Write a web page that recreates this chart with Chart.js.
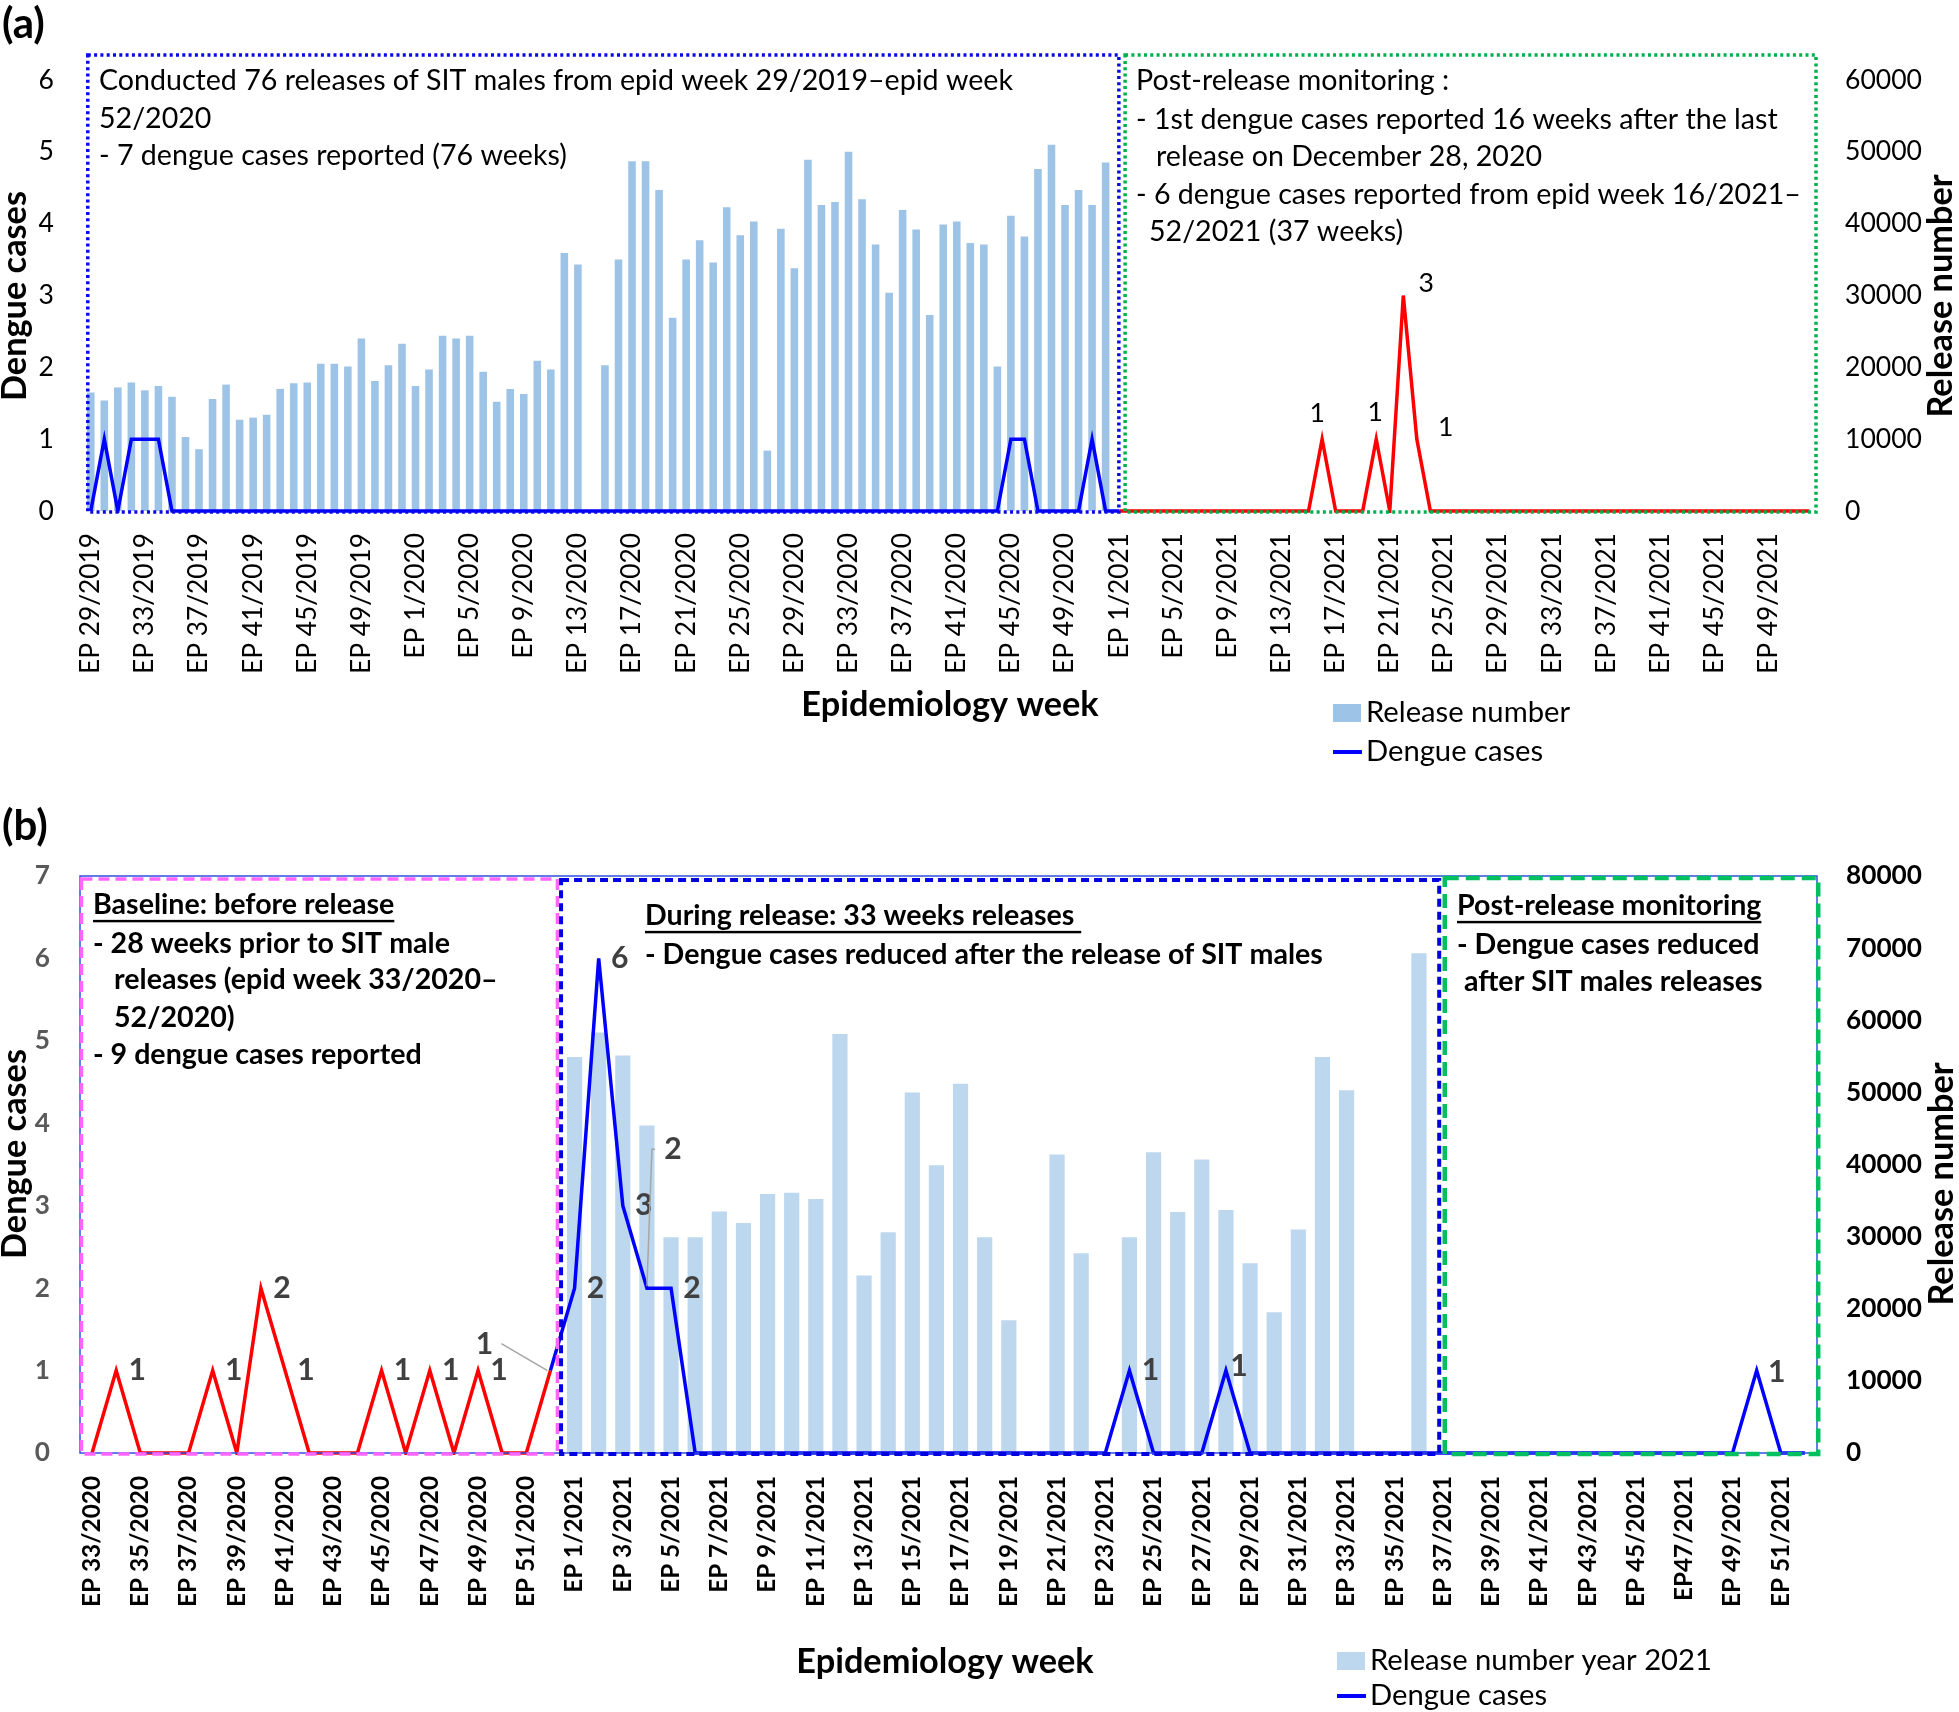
<!DOCTYPE html>
<html lang="en">
<head>
<meta charset="UTF-8">
<title>SIT male releases and dengue cases</title>
<script src="https://cdn.jsdelivr.net/npm/chart.js"></script>
<style>
  html, body { margin: 0; padding: 0; background: #fff; }
  #wrap { position: relative; width: 1959px; height: 1712px; }
  canvas { position: absolute; left: 0; }
  #chartA { top: 0; }
  #chartB { top: 800px; }
</style>
</head>
<body>
<div id="wrap">
  <canvas id="chartA" width="1959" height="800"></canvas>
  <canvas id="chartB" width="1959" height="912"></canvas>
</div>
<script>
// ---------- panel (a): epid week 29/2019 - 52/2021 ----------
const releaseA2019 = [16500, 15400, 17200, 17900, 16800, 17400, 15900, 10300, 8600, 15600, 17600, 12700,
  13000, 13400, 17000, 17800, 17900, 20500, 20500, 20100, 24000, 18100, 20300, 23300];
const releaseA2020 = [17400, 19700, 24400, 24000, 24400, 19400, 15200, 17000, 16300, 20900, 19700, 35900,
  34300, null, 20300, 35000, 48700, 48700, 44700, 26900, 35000, 37700, 34600, 42300, 38400, 40300,
  8400, 39300, 33800, 48900, 42600, 43000, 50000, 43400, 37100, 30400, 41900, 39200, 27300, 39900,
  40300, 37300, 37100, 20100, 41100, 38200, 47600, 51000, 42600, 44700, 42600, 48500];
const casesA2019 = [0, 1, 0, 1, 1, 1, 0, 0, 0, 0, 0, 0, 0, 0, 0, 0, 0, 0, 0, 0, 0, 0, 0, 0];
const casesA2020 = [0, 0, 0, 0, 0, 0, 0, 0, 0, 0, 0, 0, 0, 0, 0, 0, 0, 0, 0, 0, 0, 0, 0, 0, 0, 0,
  0, 0, 0, 0, 0, 0, 0, 0, 0, 0, 0, 0, 0, 0, 0, 0, 0, 0, 1, 1, 0, 0, 0, 0, 1, 0];
const casesA2021 = [0, 0, 0, 0, 0, 0, 0, 0, 0, 0, 0, 0, 0, 0, 0, 1, 0, 0, 0, 1, 0, 3, 1, 0, 0, 0,
  0, 0, 0, 0, 0, 0, 0, 0, 0, 0, 0, 0, 0, 0, 0, 0, 0, 0, 0, 0, 0, 0, 0, 0, 0, 0];
const tickLabelsA = ["EP 29/2019", "EP 33/2019", "EP 37/2019", "EP 41/2019", "EP 45/2019", "EP 49/2019",
  "EP 1/2020", "EP 5/2020", "EP 9/2020", "EP 13/2020", "EP 17/2020", "EP 21/2020", "EP 25/2020",
  "EP 29/2020", "EP 33/2020", "EP 37/2020", "EP 41/2020", "EP 45/2020", "EP 49/2020",
  "EP 1/2021", "EP 5/2021", "EP 9/2021", "EP 13/2021", "EP 17/2021", "EP 21/2021", "EP 25/2021",
  "EP 29/2021", "EP 33/2021", "EP 37/2021", "EP 41/2021", "EP 45/2021", "EP 49/2021"];

// ---------- panel (b): epid week 33/2020 - 52/2021 ----------
const releaseB2021 = [54900, 58300, 55100, 45400, 29900, 29900, 33500, 31900, 35900, 36100, 35200, 58100,
  24600, 30600, 50000, 39900, 51200, 29900, 18400, null, 41400, 27700, null, 29900, 41700, 33400,
  40700, 33700, 26300, 19500, 31000, 54900, 50300, null, null, 69300];
const casesB2020 = [0, 1, 0, 0, 0, 1, 0, 2, 1, 0, 0, 0, 1, 0, 1, 0, 1, 0, 0, 1];
const casesB2021 = [2, 6, 3, 2, 2, 0, 0, 0, 0, 0, 0, 0, 0, 0, 0, 0, 0, 0, 0, 0, 0, 0, 0, 1, 0, 0,
  0, 1, 0, 0, 0, 0, 0, 0, 0, 0, 0, 0, 0, 0, 0, 0, 0, 0, 0, 0, 0, 0, 0, 1, 0, 0];
const tickLabelsB = ["EP 33/2020", "EP 35/2020", "EP 37/2020", "EP 39/2020", "EP 41/2020", "EP 43/2020",
  "EP 45/2020", "EP 47/2020", "EP 49/2020", "EP 51/2020", "EP 1/2021", "EP 3/2021", "EP 5/2021",
  "EP 7/2021", "EP 9/2021", "EP 11/2021", "EP 13/2021", "EP 15/2021", "EP 17/2021", "EP 19/2021",
  "EP 21/2021", "EP 23/2021", "EP 25/2021", "EP 27/2021", "EP 29/2021", "EP 31/2021", "EP 33/2021",
  "EP 35/2021", "EP 37/2021", "EP 39/2021", "EP 41/2021", "EP 43/2021", "EP 45/2021", "EP47/2021",
  "EP 49/2021", "EP 51/2021"];

function weeks(year, from, to) {
  const out = [];
  for (let w = from; w <= to; w++) out.push("EP " + w + "/" + year);
  return out;
}
const categoriesA = weeks(2019, 29, 52).concat(weeks(2020, 1, 52), weeks(2021, 1, 52));
const categoriesB = weeks(2020, 33, 52).concat(weeks(2021, 1, 52));
const releaseA = releaseA2019.concat(releaseA2020);
const casesA = casesA2019.concat(casesA2020, casesA2021);
const releaseB = new Array(casesB2020.length).fill(null).concat(releaseB2021);
const casesB = casesB2020.concat(casesB2021);
const redFromA = releaseA.length;            // 2021 (post-release) drawn red
const blueFromB = casesB2020.length - 1;     // baseline 2020 drawn red

// font sizes matched to the widths of the original lettering
const FONT = "Lato";
const meas = document.createElement("canvas").getContext("2d");
function fitSize(text, width, weight) {
  meas.font = weight + " 100px " + FONT;
  return 100 * width / meas.measureText(text).width;
}
const sizeTextA = fitSize("Conducted 76 releases of SIT males from epid week 29/2019–epid week", 915, "normal");
const sizeTextB = fitSize("- Dengue cases reduced after the release of SIT males", 678, "bold");
const sizeTickXA = fitSize("EP 29/2019", 141, "normal");
const sizeTickYA = fitSize("60000", 77, "normal");
const sizeTickXB = fitSize("EP 23/2021", 131, "bold");
const sizeTickYB = fitSize("80000", 76, "bold");
const sizeTitle = fitSize("Epidemiology week", 297, "bold");
const sizeLegend = fitSize("Release number", 204, "normal");

function font(weight, size) { return weight + " " + size.toFixed(1) + "px " + FONT; }

function overlay(cfg) {
  return {
    id: "overlay",
    afterDatasetsDraw(chart) {
      const ctx = chart.ctx, area = chart.chartArea, x = chart.scales.x;
      ctx.save();
      if (cfg.frame) {
        ctx.strokeStyle = cfg.frame; ctx.lineWidth = 1.5;
        ctx.strokeRect(area.left, area.top, area.right - area.left, area.bottom - area.top);
      }
      // region boxes
      cfg.boxes.forEach(b => {
        const l = x.getPixelForValue(b.from), r = x.getPixelForValue(b.to);
        const t = area.top + b.top, bt = area.bottom + 1;
        ctx.strokeStyle = b.color; ctx.lineWidth = b.width; ctx.setLineDash(b.dash);
        ctx.strokeRect(l, t, r - l, bt - t);
      });
      ctx.setLineDash([]);
      // box texts
      ctx.textAlign = "left"; ctx.textBaseline = "middle"; ctx.fillStyle = "#000";
      ctx.font = cfg.textFont;
      cfg.texts.forEach(t => {
        ctx.fillText(t.text, t.x, t.y);
        if (t.u) {
          const w = ctx.measureText(t.text).width;
          ctx.fillRect(t.x, t.y + cfg.textSize * 0.52, w, Math.max(2, cfg.textSize * 0.085));
        }
      });
      // data labels
      const meta = chart.getDatasetMeta(0);
      ctx.font = cfg.labelFont; ctx.fillStyle = cfg.labelColor; ctx.textAlign = "center";
      cfg.labels.forEach(lb => {
        const p = meta.data[lb.i];
        if (lb.leader) {
          ctx.strokeStyle = "#A6A6A6"; ctx.lineWidth = 1.5;
          ctx.beginPath();
          lb.leader.forEach((q, k) => k ? ctx.lineTo(p.x + q[0], p.y + q[1]) : ctx.moveTo(p.x + q[0], p.y + q[1]));
          ctx.stroke();
        }
        ctx.fillText(String(chart.data.datasets[0].data[lb.i]), p.x + lb.dx, p.y + lb.dy);
      });
      // axis titles
      ctx.font = font("bold", sizeTitle); ctx.fillStyle = "#000"; ctx.textAlign = "center";
      ctx.fillText("Epidemiology week", cfg.xTitle[0], cfg.xTitle[1]);
      [["Dengue cases", cfg.yTitleL], ["Release number", cfg.yTitleR]].forEach(([txt, pos]) => {
        ctx.save(); ctx.translate(pos[0], pos[1]); ctx.rotate(-Math.PI / 2);
        ctx.fillText(txt, 0, 0); ctx.restore();
      });
      // panel letter
      ctx.font = font("bold", 42); ctx.textAlign = "left";
      ctx.fillText(cfg.panel, 2, cfg.panelY);
      // legend
      ctx.font = font("normal", sizeLegend);
      const lg = cfg.legend;
      ctx.fillStyle = lg.barColor;
      ctx.fillRect(lg.x, lg.y1 - 9, 28, 18);
      ctx.strokeStyle = "#0000FF"; ctx.lineWidth = 4;
      ctx.beginPath(); ctx.moveTo(lg.x, lg.y2); ctx.lineTo(lg.x + 29, lg.y2); ctx.stroke();
      ctx.fillStyle = "#000";
      ctx.fillText(lg.barText, lg.x + 33, lg.y1);
      ctx.fillText("Dengue cases", lg.x + 33, lg.y2);
      ctx.restore();
    }
  };
}

function makeChart(id, o) {
  return new Chart(document.getElementById(id), {
    type: "bar",
    data: {
      labels: o.labels,
      datasets: [
        {
          type: "line", label: "Dengue cases", data: o.cases, yAxisID: "yL",
          borderColor: "#0000FF", borderWidth: 3.5, pointRadius: 0, tension: 0, order: 1, clip: 2,
          segment: { borderColor: o.segColor }
        },
        {
          type: "bar", label: o.barLabel, data: o.release, yAxisID: "yR",
          backgroundColor: o.barColor, categoryPercentage: 1, barPercentage: o.barPct, order: 2
        }
      ]
    },
    options: {
      responsive: false, animation: false, devicePixelRatio: 1,
      layout: { padding: { top: o.padTop, left: 0, right: 0, bottom: 0 } },
      plugins: { legend: { display: false }, tooltip: { enabled: false } },
      scales: {
        x: {
          grid: { display: false, drawTicks: false }, border: { display: false },
          ticks: {
            autoSkip: false, minRotation: 90, maxRotation: 90, padding: o.xPad, color: "#000",
            font: { family: FONT, size: o.xTickSize, weight: o.tickWeight },
            callback: (v, i) => i % o.tickEvery === 0 ? o.tickLabels[i / o.tickEvery] : ""
          },
          afterFit: s => { s.height = o.xHeight; }
        },
        yL: {
          position: "left", min: 0, max: o.maxL,
          grid: { display: false, drawTicks: false }, border: { display: false },
          ticks: { stepSize: 1, padding: 30, color: o.leftColor, font: { family: FONT, size: o.yTickSize, weight: o.tickWeight } },
          afterFit: s => { s.width = o.leftW; }
        },
        yR: {
          position: "right", min: 0, max: o.maxR,
          grid: { display: false, drawTicks: false }, border: { display: false },
          ticks: { stepSize: 10000, padding: 29, color: "#000", font: { family: FONT, size: o.yTickSize, weight: o.tickWeight },
            callback: v => String(v) },
          afterFit: s => { s.width = o.rightW; }
        }
      }
    },
    plugins: [overlay(o.overlay)]
  });
}

makeChart("chartA", {
  labels: categoriesA, cases: casesA, release: releaseA,
  segColor: c => c.p0DataIndex >= redFromA ? "#FF0000" : "#0000FF",
  barLabel: "Release number", barColor: "#9DC3E6", barPct: 0.56,
  padTop: 80, xHeight: 289, leftW: 84, rightW: 143, xPad: 22,
  maxL: 6, maxR: 60000, tickEvery: 4, tickLabels: tickLabelsA,
  xTickSize: sizeTickXA, yTickSize: sizeTickYA, tickWeight: "normal", leftColor: "#000",
  overlay: {
    boxes: [
      { from: -0.22, to: 75.98, top: -25, color: "#0A0AE6", width: 3.5, dash: [3, 3.3] },
      { from: 76.44, to: 127.5, top: -25, color: "#00B050", width: 3.5, dash: [3, 3.3] }
    ],
    textFont: font("normal", sizeTextA), textSize: sizeTextA,
    texts: [
      { text: "Conducted 76 releases of SIT males from epid week 29/2019–epid week", x: 99, y: 81 },
      { text: "52/2020", x: 99, y: 119 },
      { text: "- 7 dengue cases reported (76 weeks)", x: 99, y: 156 },
      { text: "Post-release monitoring :", x: 1136, y: 81 },
      { text: "- 1st dengue cases reported 16 weeks after the last", x: 1136, y: 120 },
      { text: "release on December 28, 2020", x: 1156, y: 157 },
      { text: "- 6 dengue cases reported from epid week 16/2021–", x: 1136, y: 195 },
      { text: "52/2021 (37 weeks)", x: 1149, y: 232 }
    ],
    labelFont: font("normal", sizeTickYA), labelColor: "#000",
    labels: [
      { i: 91, dx: -5, dy: -26 }, { i: 95, dx: -1, dy: -27 },
      { i: 97, dx: 23, dy: -12 }, { i: 98, dx: 29, dy: -12 }
    ],
    xTitle: [950, 705], yTitleL: [15, 296], yTitleR: [1941, 296],
    panel: "(a)", panelY: 24,
    legend: { x: 1333, y1: 713, y2: 752, barColor: "#9DC3E6", barText: "Release number" }
  }
});

makeChart("chartB", {
  labels: categoriesB, cases: casesB, release: releaseB,
  segColor: c => c.p0DataIndex < blueFromB ? "#FF0000" : "#0000FF",
  barLabel: "Release number year 2021", barColor: "#BDD7EE", barPct: 0.63,
  padTop: 76, xHeight: 259, leftW: 80, rightW: 142, xPad: 23,
  maxL: 7, maxR: 80000, tickEvery: 2, tickLabels: tickLabelsB,
  xTickSize: sizeTickXB, yTickSize: sizeTickYB, tickWeight: "bold", leftColor: "#595959",
  overlay: {
    frame: "#3050E0",
    boxes: [
      { from: -0.44, to: 19.29, top: 3, color: "#FF66FF", width: 3.5, dash: [11, 6] },
      { from: 19.44, to: 55.84, top: 4, color: "#0000E0", width: 4, dash: [8, 5] },
      { from: 56.07, to: 71.55, top: 2, color: "#00C060", width: 4.5, dash: [14, 7] }
    ],
    textFont: font("bold", sizeTextB), textSize: sizeTextB,
    texts: [
      { text: "Baseline: before release", x: 93, y: 105, u: true },
      { text: "- 28 weeks prior to SIT male", x: 93, y: 144 },
      { text: "releases (epid week 33/2020–", x: 114, y: 180 },
      { text: "52/2020)", x: 114, y: 218 },
      { text: "- 9 dengue cases reported", x: 93, y: 255 },
      { text: "During release: 33 weeks releases ", x: 645, y: 116, u: true },
      { text: "- Dengue cases reduced after the release of SIT males", x: 645, y: 155 },
      { text: "Post-release monitoring", x: 1457, y: 106, u: true },
      { text: "- Dengue cases reduced", x: 1457, y: 145 },
      { text: "after SIT males releases", x: 1464, y: 182 }
    ],
    labelFont: font("bold", sizeTickYB * 1.15), labelColor: "#404040",
    labels: [
      { i: 1, dx: 21, dy: 0 }, { i: 5, dx: 21, dy: 0 }, { i: 7, dx: 21, dy: 0 }, { i: 8, dx: 21, dy: 0 },
      { i: 12, dx: 21, dy: 0 }, { i: 14, dx: 21, dy: 0 }, { i: 16, dx: 21, dy: 0 },
      { i: 19, dx: -66, dy: -26, leader: [[-49, -27], [-3, 0]] },
      { i: 20, dx: 21, dy: 0 }, { i: 21, dx: 21, dy: 0 }, { i: 22, dx: 21, dy: 0 },
      { i: 23, dx: 26, dy: -139, leader: [[8, -139], [5, -139], [0, -2]] },
      { i: 24, dx: 21, dy: 0 }, { i: 43, dx: 21, dy: 0 }, { i: 47, dx: 13, dy: -4 }, { i: 69, dx: 20, dy: 2 }
    ],
    xTitle: [945, 862], yTitleL: [15, 354], yTitleR: [1942, 384],
    panel: "(b)", panelY: 26,
    legend: { x: 1337, y1: 861, y2: 896, barColor: "#BDD7EE", barText: "Release number year 2021" }
  }
});
</script>
</body>
</html>
